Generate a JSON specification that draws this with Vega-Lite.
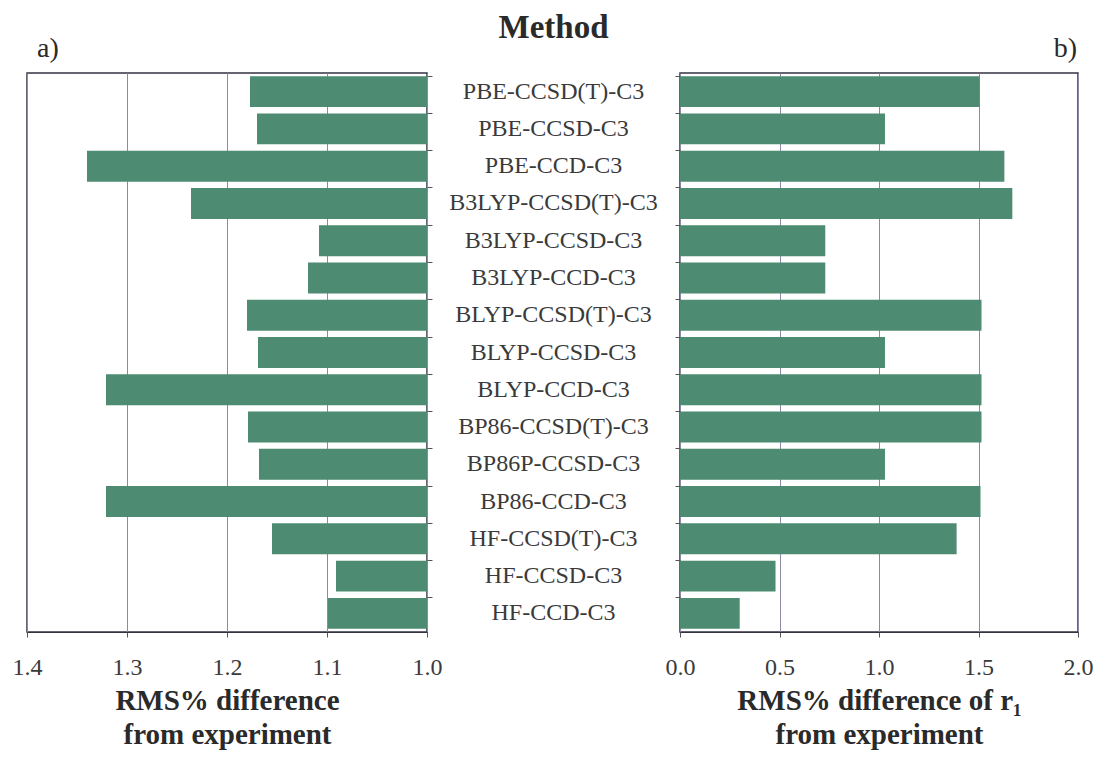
{
  "$schema": "https://vega.github.io/schema/vega-lite/v6.json",
  "background": "white",
  "padding": {"left": 11, "top": 12, "right": 0, "bottom": 0},
  "config": {
    "font": "Liberation Serif",
    "view": {"stroke": "#333344", "strokeWidth": 1.5},
    "axis": {"labelFont": "Liberation Serif", "titleFont": "Liberation Serif", "labelColor": "#3a3a3a", "titleColor": "#2a2a2a", "tickColor": "#555", "domainColor": "#333344", "labelFlush": false},
    "title": {"font": "Liberation Serif", "color": "#2a2a2a"}
  },
  "data": {"values": [
    {"method": "PBE-CCSD(T)-C3", "rms": 1.177, "r1": 1.505},
    {"method": "PBE-CCSD-C3", "rms": 1.170, "r1": 1.03},
    {"method": "PBE-CCD-C3", "rms": 1.340, "r1": 1.63},
    {"method": "B3LYP-CCSD(T)-C3", "rms": 1.236, "r1": 1.67},
    {"method": "B3LYP-CCSD-C3", "rms": 1.108, "r1": 0.73},
    {"method": "B3LYP-CCD-C3", "rms": 1.119, "r1": 0.73},
    {"method": "BLYP-CCSD(T)-C3", "rms": 1.180, "r1": 1.515},
    {"method": "BLYP-CCSD-C3", "rms": 1.169, "r1": 1.03},
    {"method": "BLYP-CCD-C3", "rms": 1.321, "r1": 1.515},
    {"method": "BP86-CCSD(T)-C3", "rms": 1.179, "r1": 1.515},
    {"method": "BP86P-CCSD-C3", "rms": 1.168, "r1": 1.03},
    {"method": "BP86-CCD-C3", "rms": 1.321, "r1": 1.51},
    {"method": "HF-CCSD(T)-C3", "rms": 1.155, "r1": 1.39},
    {"method": "HF-CCSD-C3", "rms": 1.091, "r1": 0.48},
    {"method": "HF-CCD-C3", "rms": 1.099, "r1": 0.30}
  ]},
  "spacing": 0,
  "bounds": "flush",
  "hconcat": [
    {
      "width": 400,
      "height": 559,
      "title": {"text": "a)", "anchor": "start", "fontSize": 28, "fontWeight": "normal", "offset": 10, "dx": 25},
      "mark": {"type": "bar", "color": "#4d8b72"},
      "encoding": {
        "y": {"field": "method", "type": "nominal", "sort": null,
              "scale": {"paddingInner": 0.17, "paddingOuter": 0.085},
              "axis": {"orient": "right", "labels": false, "title": null, "ticks": true, "tickSize": 5, "bandPosition": 0, "domain": false, "grid": false}},
        "x": {"field": "rms", "type": "quantitative",
              "scale": {"domain": [1.0, 1.4], "reverse": true, "zero": false, "nice": false},
              "axis": {"values": [1.0, 1.1, 1.2, 1.3, 1.4], "format": ".1f", "labelFontSize": 24, "labelPadding": 18, "tickSize": 5,
                       "grid": true, "gridColor": "#8a8aa8", "gridWidth": 1,
                       "title": ["RMS% difference", "from experiment"], "titleFontSize": 29, "titleFontWeight": "bold", "titlePadding": 7, "titleLineHeight": 34}},
        "x2": {"datum": 1.0}
      }
    },
    {
      "width": 253,
      "height": 559,
      "view": {"stroke": null},
      "title": {"text": "Method", "anchor": "middle", "fontSize": 33, "fontWeight": "bold", "offset": 28},
      "mark": {"type": "text", "fontSize": 24, "color": "#3a3a3a", "font": "Liberation Serif"},
      "encoding": {
        "y": {"field": "method", "type": "nominal", "sort": null, "axis": null,
              "scale": {"paddingInner": 0.17, "paddingOuter": 0.085}},
        "text": {"field": "method"}
      }
    },
    {
      "width": 398,
      "height": 559,
      "title": {"text": "b)", "anchor": "end", "fontSize": 28, "fontWeight": "normal", "offset": 10, "dx": -16},
      "mark": {"type": "bar", "color": "#4d8b72"},
      "encoding": {
        "y": {"field": "method", "type": "nominal", "sort": null,
              "scale": {"paddingInner": 0.17, "paddingOuter": 0.085},
              "axis": {"orient": "left", "labels": false, "title": null, "ticks": true, "tickSize": 5, "bandPosition": 0, "domain": false, "grid": false}},
        "x": {"field": "r1", "type": "quantitative",
              "scale": {"domain": [0, 2], "nice": false},
              "axis": {"values": [0, 0.5, 1.0, 1.5, 2.0], "format": ".1f", "labelFontSize": 24, "labelPadding": 18, "tickSize": 5,
                       "grid": true, "gridColor": "#8a8aa8", "gridWidth": 1,
                       "title": ["RMS% difference of r₁", "from experiment"], "titleFontSize": 29, "titleFontWeight": "bold", "titlePadding": 7, "titleLineHeight": 34}}
      }
    }
  ]
}
